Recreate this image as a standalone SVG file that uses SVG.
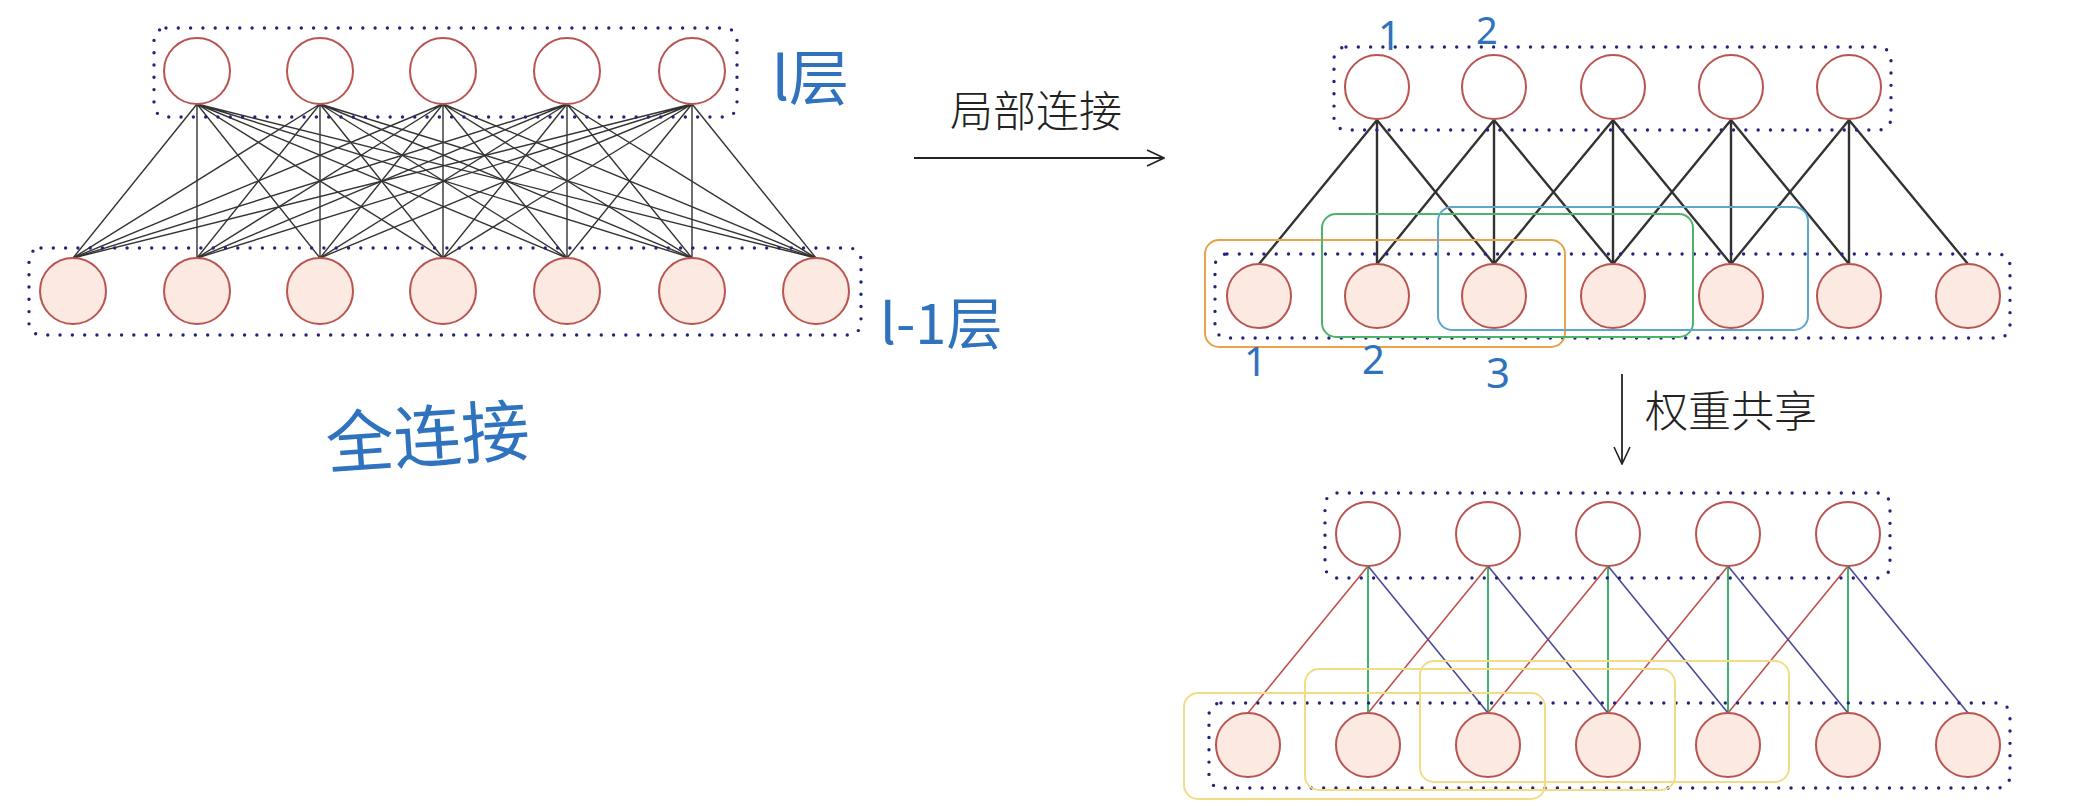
<svg xmlns="http://www.w3.org/2000/svg" width="2080" height="806" viewBox="0 0 2080 806">
<defs>
<marker id="arr" viewBox="0 0 20 20" refX="19" refY="10" markerWidth="20" markerHeight="20" markerUnits="userSpaceOnUse" orient="auto">
<path d="M2,2 L19,10 L2,18" fill="none" stroke="#222" stroke-width="1.6"/>
</marker>
<style>
.dot{fill:none;stroke:#23237a;stroke-width:3.4;stroke-dasharray:0 12.3;stroke-linecap:round}
.n{stroke:#b9544f;stroke-width:2}
.top{fill:#fff}
.bot{fill:#fbe9e2}
.k{stroke:#333;stroke-width:1.4;fill:none}
.k2{stroke:#333;stroke-width:2.4;fill:none}
.r{stroke:#c0504d;stroke-width:1.6}
.g{stroke:#3fb36b;stroke-width:2}
.b{stroke:#4a4a9a;stroke-width:1.6}
.hw{fill:#2f72bd;font-family:"Noto Sans CJK SC","Noto Sans",sans-serif}
.num{fill:#2f72bd;font-family:"Noto Sans","DejaVu Sans",sans-serif}
.lab{fill:#222;font-family:"Noto Sans CJK SC","Liberation Serif",serif;font-size:43px;font-weight:300}
</style>
</defs>

<g id="connectors">
<g id="full-conn" class="k">
<path d="M197,104 L73,258 M197,104 L197,258 M197,104 L320,258 M197,104 L443,258 M197,104 L567,258 M197,104 L692,258 M197,104 L816,258"/>
<path d="M320,104 L73,258 M320,104 L197,258 M320,104 L320,258 M320,104 L443,258 M320,104 L567,258 M320,104 L692,258 M320,104 L816,258"/>
<path d="M443,104 L73,258 M443,104 L197,258 M443,104 L320,258 M443,104 L443,258 M443,104 L567,258 M443,104 L692,258 M443,104 L816,258"/>
<path d="M567,104 L73,258 M567,104 L197,258 M567,104 L320,258 M567,104 L443,258 M567,104 L567,258 M567,104 L692,258 M567,104 L816,258"/>
<path d="M692,104 L73,258 M692,104 L197,258 M692,104 L320,258 M692,104 L443,258 M692,104 L567,258 M692,104 L692,258 M692,104 L816,258"/>
</g>
<g id="local-conn" class="k2">
<path d="M1377,120 L1259,264 M1377,120 L1377,264 M1377,120 L1494,264"/>
<path d="M1494,120 L1377,264 M1494,120 L1494,264 M1494,120 L1613,264"/>
<path d="M1613,120 L1494,264 M1613,120 L1613,264 M1613,120 L1731,264"/>
<path d="M1731,120 L1613,264 M1731,120 L1731,264 M1731,120 L1849,264"/>
<path d="M1849,120 L1731,264 M1849,120 L1849,264 M1849,120 L1968,264"/>
</g>
<g id="shared-conn">
<path class="r" d="M1368,566 L1248,713 M1488,566 L1368,713 M1608,566 L1488,713 M1728,566 L1608,713 M1848,566 L1728,713"/>
<path class="g" d="M1368,566 L1368,713 M1488,566 L1488,713 M1608,566 L1608,713 M1728,566 L1728,713 M1848,566 L1848,713"/>
<path class="b" d="M1368,566 L1488,713 M1488,566 L1608,713 M1608,566 L1728,713 M1728,566 L1848,713 M1848,566 L1968,713"/>
</g>
<g id="arrows" class="k">
<line x1="914" y1="158" x2="1164" y2="158" stroke="#222" stroke-width="1.8" marker-end="url(#arr)"/>
<line x1="1622" y1="374" x2="1622" y2="464" stroke="#222" stroke-width="1.8" marker-end="url(#arr)"/>
</g>
</g>

<g id="left-top-layer">
<rect class="dot" x="154" y="28" width="583" height="89" rx="12"/>
<g class="n top">
<circle id="L-t1" cx="197" cy="71" r="33"/>
<circle id="L-t2" cx="320" cy="71" r="33"/>
<circle id="L-t3" cx="443" cy="71" r="33"/>
<circle id="L-t4" cx="567" cy="71" r="33"/>
<circle id="L-t5" cx="692" cy="71" r="33"/>
</g>
</g>
<g id="left-bottom-layer">
<rect class="dot" x="29" y="248" width="832" height="87" rx="12"/>
<g class="n bot">
<circle id="L-b1" cx="73" cy="291" r="33"/>
<circle id="L-b2" cx="197" cy="291" r="33"/>
<circle id="L-b3" cx="320" cy="291" r="33"/>
<circle id="L-b4" cx="443" cy="291" r="33"/>
<circle id="L-b5" cx="567" cy="291" r="33"/>
<circle id="L-b6" cx="692" cy="291" r="33"/>
<circle id="L-b7" cx="816" cy="291" r="33"/>
</g>
</g>

<g id="right-top-layer">
<rect class="dot" x="1334" y="47" width="557" height="83" rx="12"/>
<g class="n top">
<circle cx="1377" cy="87" r="32"/>
<circle cx="1494" cy="87" r="32"/>
<circle cx="1613" cy="87" r="32"/>
<circle cx="1731" cy="87" r="32"/>
<circle cx="1849" cy="87" r="32"/>
</g>
</g>
<g id="right-bottom-layer">
<rect class="dot" x="1215" y="254" width="795" height="84" rx="12"/>
<g class="n bot">
<circle cx="1259" cy="296" r="32"/>
<circle cx="1377" cy="296" r="32"/>
<circle cx="1494" cy="296" r="32"/>
<circle cx="1613" cy="296" r="32"/>
<circle cx="1731" cy="296" r="32"/>
<circle cx="1849" cy="296" r="32"/>
<circle cx="1968" cy="296" r="32"/>
</g>
</g>
<g id="windows-local" fill="none" stroke-width="2">
<rect x="1205" y="240" width="360" height="107" rx="14" stroke="#e9a24a"/>
<rect x="1322" y="214" width="371" height="123" rx="14" stroke="#4cb567"/>
<rect x="1438" y="207" width="370" height="123" rx="14" stroke="#5ea6cc"/>
</g>

<g id="shared-top-layer">
<rect class="dot" x="1325" y="493" width="565" height="85" rx="12"/>
<g class="n top">
<circle cx="1368" cy="534" r="32"/>
<circle cx="1488" cy="534" r="32"/>
<circle cx="1608" cy="534" r="32"/>
<circle cx="1728" cy="534" r="32"/>
<circle cx="1848" cy="534" r="32"/>
</g>
</g>
<g id="shared-bottom-layer">
<rect class="dot" x="1209" y="703" width="801" height="85" rx="12"/>
<g class="n bot">
<circle cx="1248" cy="745" r="32"/>
<circle cx="1368" cy="745" r="32"/>
<circle cx="1488" cy="745" r="32"/>
<circle cx="1608" cy="745" r="32"/>
<circle cx="1728" cy="745" r="32"/>
<circle cx="1848" cy="745" r="32"/>
<circle cx="1968" cy="745" r="32"/>
</g>
</g>
<g id="windows-shared" fill="none" stroke="#f2dc86" stroke-width="2">
<rect x="1184" y="693" width="361" height="106" rx="14"/>
<rect x="1305" y="669" width="370" height="121" rx="14"/>
<rect x="1420" y="661" width="369" height="121" rx="14"/>
</g>

<g id="labels">
<text class="lab" x="950" y="127">局部连接</text>
<text class="lab" x="1645" y="427">权重共享</text>
<text class="hw" x="772" y="100" font-size="60">l层</text>
<text class="hw" x="880" y="344" font-size="56">l-1层</text>
<text class="hw" x="325" y="462" font-size="68" transform="rotate(-4 420 430)">全连接</text>
<text class="num" x="1378" y="50" font-size="40">1</text>
<text class="num" x="1476" y="44" font-size="38">2</text>
<text class="num" x="1244" y="376" font-size="40">1</text>
<text class="num" x="1362" y="374" font-size="40">2</text>
<text class="num" x="1486" y="388" font-size="42">3</text>
</g>
</svg>
